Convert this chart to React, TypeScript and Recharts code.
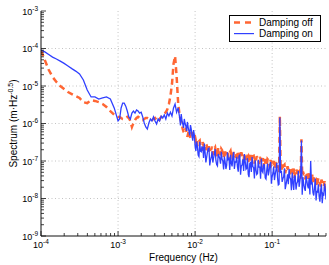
import React from 'react';
import { LineChart, Line, XAxis, YAxis, ReferenceLine } from 'recharts';

// Frequency grid, coarse part (Hz)
const frequencyCoarse = [
  1.0e-4, 1.122e-4, 1.259e-4, 1.413e-4, 1.585e-4, 1.778e-4, 1.995e-4, 2.239e-4, 2.512e-4, 2.818e-4,
  3.162e-4, 3.548e-4, 3.981e-4, 4.467e-4, 5.012e-4, 5.623e-4, 6.31e-4, 7.079e-4, 7.943e-4, 8.913e-4,
  1.0e-3,
  1.047e-3, 1.096e-3, 1.148e-3, 1.202e-3, 1.259e-3, 1.318e-3, 1.38e-3, 1.445e-3, 1.514e-3, 1.585e-3,
  1.66e-3, 1.738e-3, 1.82e-3, 1.905e-3, 1.995e-3, 2.089e-3, 2.188e-3, 2.291e-3, 2.399e-3, 2.512e-3,
  2.63e-3, 2.754e-3, 2.884e-3, 3.02e-3, 3.162e-3, 3.311e-3, 3.467e-3, 3.631e-3, 3.802e-3, 3.981e-3,
  4.169e-3, 4.365e-3, 4.571e-3, 4.786e-3, 5.012e-3, 5.248e-3, 5.495e-3, 5.754e-3, 6.026e-3, 6.31e-3,
  6.607e-3, 6.918e-3, 7.244e-3, 7.586e-3, 7.943e-3, 8.318e-3, 8.71e-3, 9.12e-3, 9.55e-3,
  1.0e-2, 1.047e-2, 1.096e-2, 1.148e-2, 1.202e-2, 1.259e-2, 1.318e-2, 1.38e-2, 1.445e-2, 1.514e-2,
  1.585e-2, 1.66e-2, 1.738e-2, 1.82e-2, 1.905e-2, 1.995e-2, 2.089e-2, 2.188e-2, 2.291e-2, 2.399e-2,
  2.512e-2, 2.63e-2, 2.754e-2, 2.884e-2, 3.02e-2, 3.162e-2, 3.311e-2, 3.467e-2, 3.631e-2, 3.802e-2,
  3.981e-2, 4.169e-2, 4.365e-2, 4.571e-2, 4.786e-2, 5.012e-2, 5.248e-2, 5.495e-2, 5.754e-2, 6.026e-2,
  6.31e-2, 6.607e-2, 6.918e-2, 7.244e-2, 7.586e-2, 7.943e-2, 8.318e-2, 8.71e-2, 9.12e-2, 9.55e-2,
  0.1, 0.1047, 0.1096, 0.1148, 0.1202, 0.1259, 0.1318, 0.138, 0.1445, 0.1514,
  0.1585, 0.166, 0.1738, 0.182, 0.1905, 0.1995, 0.2089, 0.2188, 0.2291, 0.2399,
  0.2512, 0.263, 0.2754, 0.2884, 0.302, 0.3162, 0.3311, 0.3467, 0.3631, 0.3802,
  0.3981, 0.4169, 0.4365, 0.4571, 0.4786, 0.5,
];

// Spectrum on the coarse grid, damping off (m·Hz^-0.5)
const dampingOffCoarse = [
  8.8e-5, 4.9e-5, 2.7e-5, 1.74e-5, 1.28e-5, 1.0e-5, 8.3e-6, 6.9e-6, 6.1e-6, 5.4e-6,
  4.8e-6, 3.7e-6, 3.5e-6, 4.2e-6, 4.0e-6, 3.7e-6, 3.3e-6, 2.75e-6, 2.15e-6, 1.7e-6,
  1.5e-6,
  1.5e-6, 1.4e-6, 1.32e-6, 1.32e-6, 1.4e-6, 1.5e-6, 1.4e-6, 1.17e-6, 8.1e-7, 1.03e-6,
  1.24e-6, 1.4e-6, 1.5e-6, 1.4e-6, 1.32e-6, 1.24e-6, 1.32e-6, 1.4e-6, 1.4e-6, 1.32e-6,
  1.24e-6, 1.24e-6, 1.32e-6, 1.4e-6, 1.24e-6, 1.1e-6, 1.32e-6, 1.5e-6, 1.7e-6, 1.8e-6,
  2.0e-6, 2.4e-6, 3.3e-6, 5.4e-6, 1.13e-5, 3.9e-5, 6.3e-5, 1.85e-5, 3.5e-6,
  1.58e-6, 1.1e-6, 7.1e-7, 5.6e-7, 7.6e-7, 4.4e-7, 6.7e-7, 4.1e-7, 5.9e-7, 3.9e-7,
  4.4e-7, 4.0e-7, 3.0e-7, 3.5e-7, 2.5e-7, 3.2e-7, 2.75e-7, 2.9e-7, 1.9e-7, 2.6e-7,
  2.0e-7, 2.4e-7, 1.66e-7, 2.3e-7, 2.0e-7, 2.2e-7, 1.74e-7, 2.1e-7, 1.45e-7, 2.0e-7,
  1.66e-7, 1.9e-7, 1.38e-7, 1.86e-7, 1.58e-7, 1.74e-7, 1.45e-7, 1.78e-7, 1.2e-7, 1.66e-7,
  1.7e-7, 1.38e-7, 1.62e-7, 1.15e-7, 1.55e-7, 1.32e-7, 1.45e-7, 1.1e-7, 1.38e-7, 1.26e-7,
  1.35e-7, 1.1e-7, 1.29e-7, 9.5e-8, 1.2e-7, 1.12e-7, 1.0e-7, 1.12e-7, 8.7e-8, 1.07e-7,
  9.3e-8, 1.0e-7, 7.9e-8, 9.3e-8, 7.6e-8, 1.55e-6, 8.3e-8, 7.2e-8, 7.9e-8, 6.3e-8,
  7.2e-8, 5.75e-8, 6.8e-8, 5.5e-8, 6.3e-8, 5.25e-8, 5.9e-8, 4.8e-8, 5.6e-8, 3.8e-7,
  5.25e-8, 4.4e-8, 5.0e-8, 4.0e-8, 4.7e-8, 4.0e-8, 4.3e-8, 3.3e-8, 3.9e-8, 3.0e-8,
  3.5e-8, 2.75e-8, 3.2e-8, 2.5e-8, 2.9e-8, 2.4e-8,
];

// Spectrum on the coarse grid, damping on (m·Hz^-0.5)
const dampingOnCoarse = [
  9.1e-5, 8.1e-5, 6.9e-5, 5.9e-5, 5.25e-5, 4.6e-5, 4.0e-5, 3.4e-5, 2.9e-5, 2.5e-5,
  2.1e-5, 1.45e-5, 7.8e-6, 5.1e-6, 5.1e-6, 4.5e-6, 4.8e-6, 5.1e-6, 4.5e-6, 2.6e-6,
  1.17e-6,
  1.32e-6, 2.6e-6, 3.5e-6, 3.5e-6, 2.9e-6, 2.15e-6, 1.5e-6, 1.32e-6, 1.9e-6, 2.15e-6,
  1.9e-6, 2.3e-6, 2.15e-6, 1.9e-6, 2.0e-6, 1.5e-6, 1.03e-6, 8.1e-7, 7.1e-7, 1.03e-6,
  1.32e-6, 1.17e-6, 1.5e-6, 1.17e-6, 9.7e-7, 1.32e-6, 1.17e-6, 1.58e-6, 1.4e-6, 1.7e-6,
  1.32e-6, 1.9e-6, 1.58e-6, 2.0e-6, 1.58e-6, 2.6e-6, 3.3e-6, 2.0e-6, 2.6e-6,
  1.4e-6, 1.79e-6, 9.7e-7, 1.32e-6, 8.6e-7, 1.1e-6, 6.3e-7, 9.1e-7, 4.6e-7, 6.7e-7,
  2.5e-7, 3.3e-7, 1.43e-7, 3.25e-7, 1.76e-7, 2.3e-7, 2.9e-7, 9.2e-8, 1.73e-7, 2.2e-7,
  1.06e-7, 1.8e-7, 1.22e-7, 2.07e-7, 8.0e-8, 1.54e-7, 1.17e-7, 1.76e-7, 9.9e-8, 1.31e-7,
  6.1e-8, 1.71e-7, 1.16e-7, 1.47e-7, 7.2e-8, 1.73e-7, 9.5e-8, 1.29e-7, 5.2e-8, 1.43e-7,
  7.4e-8, 1.11e-7, 1.54e-7, 6.0e-8, 1.19e-7, 3.7e-8, 9.1e-8, 1.27e-7, 6.6e-8, 1.05e-7,
  4.4e-8, 1.07e-7, 6.9e-8, 1.17e-7, 4.9e-8, 7.9e-8, 3.3e-8, 8.6e-8, 5.4e-8, 9.4e-8,
  3.8e-8, 7.1e-8, 4.4e-8, 8.9e-8, 2.3e-8, 1.45e-6, 5.5e-8, 3.4e-8, 6.4e-8, 2.35e-8,
  4.4e-8, 6.1e-8, 3.3e-8, 4.9e-8, 1.69e-8, 3.9e-8, 2.5e-8, 5.4e-8, 2.9e-8, 3.5e-7,
  3.7e-8, 1.87e-8, 4.0e-8, 2.2e-8, 3.5e-8, 1.0e-7, 2.6e-8, 1.2e-8, 3.4e-8, 1.54e-8,
  2.4e-8, 8.2e-9, 2.4e-8, 1.32e-8, 2.5e-8, 9.4e-9,
];

// Frequency grid, in-between points of the noisy part (Hz)
const frequencyFine = [
  6.457e-3, 6.761e-3, 7.079e-3, 7.413e-3, 7.762e-3, 8.128e-3, 8.511e-3, 8.913e-3, 9.333e-3, 9.772e-3,
  1.023e-2, 1.072e-2, 1.122e-2, 1.175e-2, 1.23e-2, 1.288e-2, 1.349e-2, 1.413e-2, 1.479e-2, 1.549e-2,
  1.622e-2, 1.698e-2, 1.778e-2, 1.862e-2, 1.95e-2, 2.042e-2, 2.138e-2, 2.239e-2, 2.344e-2, 2.455e-2,
  2.57e-2, 2.692e-2, 2.818e-2, 2.951e-2, 3.09e-2, 3.236e-2, 3.388e-2, 3.548e-2, 3.715e-2, 3.89e-2,
  4.074e-2, 4.266e-2, 4.467e-2, 4.677e-2, 4.898e-2, 5.129e-2, 5.37e-2, 5.623e-2, 5.888e-2, 6.166e-2,
  6.457e-2, 6.761e-2, 7.079e-2, 7.413e-2, 7.762e-2, 8.128e-2, 8.511e-2, 8.913e-2, 9.333e-2, 9.772e-2,
  0.1023, 0.1072, 0.1122, 0.1175, 0.123, 0.1288, 0.1349, 0.1413, 0.1479, 0.1549,
  0.1622, 0.1698, 0.1778, 0.1862, 0.195, 0.2042, 0.2138, 0.2239, 0.2344, 0.2455,
  0.257, 0.2692, 0.2818, 0.2951, 0.309, 0.3236, 0.3388, 0.3548, 0.3715, 0.389,
  0.4074, 0.4266, 0.4467, 0.4677, 0.4898,
];

const dampingOffFine = [
  1.32e-6, 8.9e-7, 6.0e-7, 6.6e-7, 5.6e-7, 5.4e-7, 5.1e-7, 5.0e-7, 4.7e-7, 4.2e-7,
  3.52e-7, 2.51e-7, 3.33e-7, 2.49e-7, 1.86e-7, 2.49e-7, 1.97e-7, 2.65e-7, 1.63e-7, 1.95e-7,
  2.07e-7, 1.53e-7, 2.1e-7, 1.63e-7, 1.26e-7, 1.75e-7, 1.42e-7, 1.95e-7, 1.23e-7, 1.51e-7,
  1.62e-7, 1.22e-7, 1.7e-7, 1.33e-7, 1.05e-7, 1.46e-7, 1.2e-7, 1.67e-7, 1.07e-7, 1.33e-7,
  1.43e-7, 1.06e-7, 1.46e-7, 1.13e-7, 8.7e-8, 1.21e-7, 9.8e-8, 1.35e-7, 8.5e-8, 1.04e-7,
  1.12e-7, 8.3e-8, 1.14e-7, 8.8e-8, 6.8e-8, 9.4e-8, 7.66e-8, 1.05e-7, 6.65e-8, 8.2e-8,
  8.7e-8, 6.35e-8, 8.65e-8, 6.6e-8, 5.07e-8, 6.9e-8, 5.5e-8, 7.5e-8, 4.7e-8, 5.7e-8,
  6.0e-8, 4.4e-8, 6.0e-8, 4.58e-8, 3.5e-8, 4.8e-8, 3.9e-8, 5.37e-8, 3.38e-8, 4.16e-8,
  4.4e-8, 3.23e-8, 4.4e-8, 3.37e-8, 2.58e-8, 3.48e-8, 2.76e-8, 3.72e-8, 2.29e-8, 2.74e-8,
  2.86e-8, 2.07e-8, 2.77e-8, 2.1e-8, 1.59e-8,
];

const dampingOnFine = [
  8.9e-7, 1.2e-6, 7.6e-7, 1.0e-6, 6.3e-7, 7.9e-7, 4.8e-7, 7.1e-7, 3.5e-7, 5.0e-7,
  1.85e-7, 2.42e-7, 1.31e-7, 1.82e-7, 2.38e-7, 1.21e-7, 1.69e-7, 1.26e-7, 2.13e-7, 7.6e-8,
  1.26e-7, 9.1e-8, 1.53e-7, 1.04e-7, 7.4e-8, 1.34e-7, 8.5e-8, 1.13e-7, 5.97e-8, 9.5e-8,
  7.7e-8, 1.1e-7, 5.75e-8, 8.8e-8, 1.27e-7, 6.1e-8, 9.4e-8, 7.0e-8, 1.35e-7, 4.3e-8,
  7.9e-8, 5.4e-8, 9.95e-8, 6.4e-8, 4.37e-8, 8.6e-8, 5.1e-8, 7.1e-8, 3.4e-8, 5.9e-8,
  4.66e-8, 6.9e-8, 3.35e-8, 5.35e-8, 7.96e-8, 3.56e-8, 5.66e-8, 4.12e-8, 8.3e-8, 2.48e-8,
  4.65e-8, 3.1e-8, 5.8e-8, 3.6e-8, 2.4e-8, 4.8e-8, 2.77e-8, 3.86e-8, 1.78e-8, 3.1e-8,
  2.4e-8, 3.6e-8, 1.66e-8, 2.67e-8, 4.0e-8, 1.73e-8, 2.82e-8, 2.05e-8, 4.18e-8, 1.26e-8,
  2.37e-8, 1.6e-8, 2.98e-8, 1.87e-8, 1.28e-8, 2.49e-8, 1.43e-8, 1.93e-8, 8.85e-9, 1.5e-8,
  1.13e-8, 1.67e-8, 7.46e-9, 1.19e-8, 1.79e-8,
];

const seriesNames = ['Damping off', 'Damping on'];
const seriesColors = ['#FF6633', '#3040FF'];

const xMajorTicks = [1e-4, 1e-3, 1e-2, 1e-1];
const xMinorTicks = [
  2e-4, 3e-4, 4e-4, 5e-4, 6e-4, 7e-4, 8e-4, 9e-4,
  2e-3, 3e-3, 4e-3, 5e-3, 6e-3, 7e-3, 8e-3, 9e-3,
  2e-2, 3e-2, 4e-2, 5e-2, 6e-2, 7e-2, 8e-2, 9e-2,
  0.2, 0.3, 0.4, 0.5,
];
const yMajorTicks = [1e-9, 1e-8, 1e-7, 1e-6, 1e-5, 1e-4, 1e-3];
const yMinorTicks = [
  2e-9, 3e-9, 4e-9, 5e-9, 6e-9, 7e-9, 8e-9, 9e-9,
  2e-8, 3e-8, 4e-8, 5e-8, 6e-8, 7e-8, 8e-8, 9e-8,
  2e-7, 3e-7, 4e-7, 5e-7, 6e-7, 7e-7, 8e-7, 9e-7,
  2e-6, 3e-6, 4e-6, 5e-6, 6e-6, 7e-6, 8e-6, 9e-6,
  2e-5, 3e-5, 4e-5, 5e-5, 6e-5, 7e-5, 8e-5, 9e-5,
  2e-4, 3e-4, 4e-4, 5e-4, 6e-4, 7e-4, 8e-4, 9e-4,
];

const xTicks = [...xMajorTicks, ...xMinorTicks].sort((a, b) => a - b);
const yTicks = [...yMajorTicks, ...yMinorTicks].sort((a, b) => a - b);

const data = [
  ...frequencyCoarse.map((f, i) => ({ f, off: dampingOffCoarse[i], on: dampingOnCoarse[i] })),
  ...frequencyFine.map((f, i) => ({ f, off: dampingOffFine[i], on: dampingOnFine[i] })),
].sort((a, b) => a.f - b.f);

const FONT = '"Liberation Sans", Arial, Helvetica, sans-serif';
const isMajor = (v: number) => Math.abs(Math.log10(v) - Math.round(Math.log10(v))) < 1e-6;
const expOf = (v: number) => Math.round(Math.log10(v));
const AX = '#111';

const BottomTick = (props: any) => {
  const { x, y, payload } = props;
  const v = payload.value;
  const major = isMajor(v);
  return (
    <g>
      <line x1={x} y1={y} x2={x} y2={y - (major ? 5 : 3)} stroke={AX} strokeWidth={0.8} />
      {major && (
        <text x={x} y={y + 12} textAnchor="middle" fontSize={9} fill="#000" fontFamily={FONT}>
          <tspan>10</tspan>
          <tspan dy={-4} fontSize={6.5}>{String(expOf(v))}</tspan>
        </text>
      )}
    </g>
  );
};

const TopTick = (props: any) => {
  const { x, y, payload } = props;
  const major = isMajor(payload.value);
  return <line x1={x} y1={y} x2={x} y2={y + (major ? 5 : 3)} stroke={AX} strokeWidth={0.8} />;
};

const LeftTick = (props: any) => {
  const { x, y, payload } = props;
  const v = payload.value;
  const major = isMajor(v);
  return (
    <g>
      <line x1={x} y1={y} x2={x + (major ? 5 : 3)} y2={y} stroke={AX} strokeWidth={0.8} />
      {major && (
        <text x={x - 3} y={y + 3.5} textAnchor="end" fontSize={9} fill="#000" fontFamily={FONT}>
          <tspan>10</tspan>
          <tspan dy={-4} fontSize={6.5}>{String(expOf(v))}</tspan>
        </text>
      )}
    </g>
  );
};

const RightTick = (props: any) => {
  const { x, y, payload } = props;
  const major = isMajor(payload.value);
  return <line x1={x} y1={y} x2={x - (major ? 5 : 3)} y2={y} stroke={AX} strokeWidth={0.8} />;
};

const XTitle = (props: any) => {
  const vb = props.viewBox || { x: 41, y: 236, width: 285, height: 29 };
  return (
    <text x={vb.x + vb.width / 2} y={vb.y + 24.5} textAnchor="middle" fontSize={10} fill="#000" fontFamily={FONT}>
      Frequency (Hz)
    </text>
  );
};

const YTitle = (props: any) => {
  const vb = props.viewBox || { x: 0, y: 11, width: 41, height: 225 };
  const cx = vb.x + 17;
  const cy = vb.y + vb.height / 2;
  return (
    <text x={cx} y={cy} transform={`rotate(-90, ${cx}, ${cy})`} textAnchor="middle" fontSize={10} fill="#000" fontFamily={FONT}>
      <tspan>Spectrum (m·Hz</tspan>
      <tspan dy={-4} fontSize={7}>-0.5</tspan>
      <tspan dy={4}>)</tspan>
    </text>
  );
};

const LegendBox = () => (
  <div
    style={{
      position: 'absolute',
      left: 229,
      top: 15,
      width: 90,
      height: 25,
      border: '1px solid #000',
      background: '#fff',
      fontFamily: FONT,
      fontSize: 10,
      color: '#000',
    }}
  >
    {seriesNames.map((name, i) => (
      <div key={name} style={{ position: 'absolute', left: 0, top: 1 + i * 11.3, height: 11.3, width: 90 }}>
        <svg width={22} height={11} style={{ position: 'absolute', left: 3, top: 0 }}>
          <line
            x1={1}
            x2={21}
            y1={5.6}
            y2={5.6}
            stroke={seriesColors[i]}
            strokeWidth={i === 0 ? 2.5 : 1.2}
            strokeDasharray={i === 0 ? '6 5' : undefined}
          />
        </svg>
        <span style={{ position: 'absolute', left: 29, top: 0, lineHeight: '11.3px', whiteSpace: 'nowrap' }}>{name}</span>
      </div>
    ))}
  </div>
);

export default function App() {
  return (
    <div style={{ position: 'absolute', left: 0, top: 0, width: 329, height: 265, background: '#fff', overflow: 'hidden' }}>
      <LineChart width={329} height={265} data={data} margin={{ top: 11, right: 3, bottom: 0, left: 0 }}>
        {[1e-3, 1e-2, 1e-1].map((v) => (
          <ReferenceLine key={'gx' + v} x={v} stroke="#b5b5b5" strokeWidth={0.8} strokeDasharray="1 2.5" />
        ))}
        {[1e-8, 1e-7, 1e-6, 1e-5, 1e-4].map((v) => (
          <ReferenceLine key={'gy' + v} y={v} stroke="#b5b5b5" strokeWidth={0.8} strokeDasharray="1 2.5" />
        ))}
        <XAxis
          dataKey="f"
          type="number"
          scale="log"
          domain={[1e-4, 0.5]}
          allowDataOverflow
          ticks={xTicks}
          interval={0}
          tickSize={0}
          tickMargin={0}
          tickLine={false}
          tick={<BottomTick />}
          height={29}
          axisLine={{ stroke: AX }}
          label={<XTitle />}
        />
        <XAxis
          xAxisId="top"
          orientation="top"
          dataKey="f"
          type="number"
          scale="log"
          domain={[1e-4, 0.5]}
          allowDataOverflow
          ticks={xTicks}
          interval={0}
          tickSize={0}
          tickMargin={0}
          tickLine={false}
          tick={<TopTick />}
          height={0}
          axisLine={{ stroke: AX }}
        />
        <YAxis
          type="number"
          scale="log"
          domain={[1e-9, 1e-3]}
          allowDataOverflow
          ticks={yTicks}
          interval={0}
          tickSize={0}
          tickMargin={0}
          tickLine={false}
          tick={<LeftTick />}
          width={41}
          axisLine={{ stroke: AX }}
          label={<YTitle />}
        />
        <YAxis
          yAxisId="right"
          orientation="right"
          type="number"
          scale="log"
          domain={[1e-9, 1e-3]}
          allowDataOverflow
          ticks={yTicks}
          interval={0}
          tickSize={0}
          tickMargin={0}
          tickLine={false}
          tick={<RightTick />}
          width={0}
          axisLine={{ stroke: AX }}
        />
        <Line
          type="linear"
          dataKey="off"
          name={seriesNames[0]}
          stroke={seriesColors[0]}
          strokeWidth={2.5}
          strokeDasharray="6 4"
          dot={false}
          activeDot={false}
          isAnimationActive={false}
        />
        <Line
          type="linear"
          dataKey="on"
          name={seriesNames[1]}
          stroke={seriesColors[1]}
          strokeWidth={1.3}
          dot={false}
          activeDot={false}
          isAnimationActive={false}
        />
      </LineChart>
      <LegendBox />
    </div>
  );
}
